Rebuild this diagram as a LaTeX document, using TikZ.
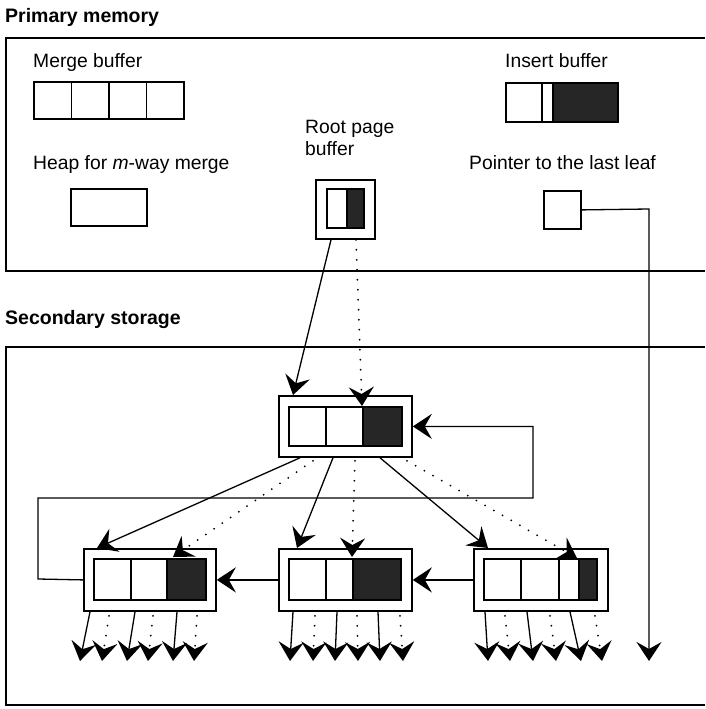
\documentclass[tikz,border=0pt]{standalone}
\usepackage{fontspec}
\setmainfont{Liberation Sans}
\usetikzlibrary{arrows.meta,calc}
\begin{document}
\begin{tikzpicture}[x=1pt,y=-1pt,
  lbl/.style={font=\fontsize{19.3}{21}\selectfont, inner sep=0pt, anchor=base west},
  ttl/.style={font=\fontsize{19.5}{21}\selectfont\bfseries, inner sep=0pt, anchor=base west},
  frame/.style={line width=1.5pt},
  cellbox/.style 2 args={draw, line width=1.8pt, inner sep=0pt, anchor=north west, minimum width=#1pt, minimum height=#2pt},
  dark/.style={fill=black!85},
  tipstyle/.style={-{Stealth[length=19pt,width=25pt,inset=7pt,line width=2pt]}},
  arr/.style={line width=1.3pt, tipstyle},
  dotarr/.style={line width=2pt, line cap=round, dash pattern=on 0pt off 10pt, tipstyle},
]
\useasboundingbox (0,0) rectangle (705,709);
\fill[white] (0,0) rectangle (705,709);

% titles and frames
\node[ttl] (tp) at (5,23) {Primary memory};
\node[ttl] (ts) at (5,324) {Secondary storage};
\draw[frame] (705,38) -- (6,38) -- (6,271) -- (705,271);
\draw[frame] (705,347) -- (6,347) -- (6,705) -- (705,705);

% labels
\node[lbl] (lmerge) at (33,67) {Merge buffer};
\node[lbl] (lins) at (505,67) {Insert buffer};
\node[lbl] (lheap) at (33,169) {Heap for \textit{m}-way merge};
\node[lbl] (lroot1) at (305,133) {Root page};
\node[lbl] (lroot2) at (305,155) {buffer};
\node[lbl] (lptr) at (469,169) {Pointer to the last leaf};

% merge buffer
\node[cellbox={37.5}{37}] (m1) at (33,81) {};
\node[cellbox={37.5}{37}] (m2) at (70.5,81) {};
\node[cellbox={37.5}{37}] (m3) at (108,81) {};
\node[cellbox={37.5}{37}] (m4) at (145.5,81) {};

% insert buffer
\node[cellbox={36}{39}] (i1) at (505,82) {};
\node[cellbox={11}{39}] (i2) at (541,82) {};
\node[cellbox={65}{39},dark] (i3) at (552,82) {};

% heap
\node[cellbox={76}{37}] (heap) at (70,188) {};

% root page buffer
\node[cellbox={59}{59}] (rpb) at (315,179) {};
\node[cellbox={20}{39}] (rpb1) at (326,188) {};
\node[cellbox={17}{39},dark] (rpb2) at (346,188) {};

% pointer
\node[cellbox={37}{38}] (ptr) at (543,190) {};

% root node
\node[cellbox={133}{61}] (root) at (278,395) {};
\node[cellbox={37}{39}] (r1) at (288,406) {};
\node[cellbox={37}{39}] (r2) at (325,406) {};
\node[cellbox={39}{39},dark] (r3) at (362,406) {};

% left leaf
\node[cellbox={132}{62}] (leafL) at (83,548) {};
\node[cellbox={37}{41}] (l1) at (93,558) {};
\node[cellbox={36}{41}] (l2) at (130,558) {};
\node[cellbox={39}{41},dark] (l3) at (166,558) {};

% middle leaf
\node[cellbox={133}{62}] (leafM) at (278,548) {};
\node[cellbox={37}{41}] (n1) at (288,558) {};
\node[cellbox={27}{41}] (n2) at (325,558) {};
\node[cellbox={48}{41},dark] (n3) at (352,558) {};

% right leaf
\node[cellbox={134}{62}] (leafR) at (473,548) {};
\node[cellbox={37}{41}] (q1) at (483,558) {};
\node[cellbox={38}{41}] (q2) at (520,558) {};
\node[cellbox={20}{41}] (q3) at (558,558) {};
\node[cellbox={18}{41},dark] (q4) at (578,558) {};

% root page buffer to root
\draw[arr] ([xshift=16pt]rpb.south west) -- ([xshift=15pt]root.north west);
\draw[dotarr] ([xshift=41pt]rpb.south west) -- (r3.north west);

% pointer to last leaf
\coordinate (ptrend) at (649,661);
\draw[arr] (ptr.east) -- (649,209) -- (ptrend);

% feedback from left leaf to root
\draw[arr] (leafL.west) -- (38,579) -- (38,498) -- (533,498) |- (root.east);

% leaf chain
\draw[arr] (leafM.west) -- (leafL.east);
\draw[arr] (leafR.west) -- (leafM.east);

% root to leaves
\draw[arr] ([xshift=22pt]root.south west) -- ([xshift=14pt]leafL.north west);
\draw[arr] ([xshift=55pt]root.south west) -- ([xshift=19pt]leafM.north west);
\draw[arr] ([xshift=102pt]root.south west) -- ([xshift=15pt]leafR.north west);
\draw[dotarr] ([xshift=35pt,yshift=-3pt]root.south west) -- ([xshift=7pt,yshift=1pt]l3.north west);
\draw[dotarr] ([xshift=77pt,yshift=-3pt]root.south west) -- ([yshift=1pt]n3.north west);
\draw[dotarr] ([xshift=129pt,yshift=-3pt]root.south west) -- ([xshift=-1pt]q4.north west);

% children of left leaf
\draw[arr] ([xshift=7pt]leafL.south west) -- (80,661);
\draw[arr] ([xshift=52pt]leafL.south west) -- (127,661);
\draw[arr] ([xshift=94pt]leafL.south west) -- (173,661);
\draw[dotarr] ([xshift=26pt,yshift=-4pt]leafL.south west) -- (102,661);
\draw[dotarr] ([xshift=70pt,yshift=-4pt]leafL.south west) -- (148,661);
\draw[dotarr] ([xshift=114pt,yshift=-4pt]leafL.south west) -- (194,661);

% children of middle leaf
\draw[arr] ([xshift=15pt]leafM.south west) -- (290,661);
\draw[arr] ([xshift=59pt]leafM.south west) -- (335,661);
\draw[arr] ([xshift=100pt]leafM.south west) -- (380,661);
\draw[dotarr] ([xshift=37pt,yshift=-4pt]leafM.south west) -- (313,661);
\draw[dotarr] ([xshift=79pt,yshift=-4pt]leafM.south west) -- (358,661);
\draw[dotarr] ([xshift=122pt,yshift=-4pt]leafM.south west) -- (403,661);

% children of right leaf
\draw[arr] ([xshift=12pt]leafR.south west) -- (488,661);
\draw[arr] ([xshift=54pt]leafR.south west) -- (533,661);
\draw[arr] ([xshift=97pt]leafR.south west) -- (581,661);
\draw[dotarr] ([xshift=32pt,yshift=-4pt]leafR.south west) -- (510,661);
\draw[dotarr] ([xshift=77pt,yshift=-4pt]leafR.south west) -- (556,661);
\draw[dotarr] ([xshift=122pt,yshift=-4pt]leafR.south west) -- (602,661);
\end{tikzpicture}
\end{document}
